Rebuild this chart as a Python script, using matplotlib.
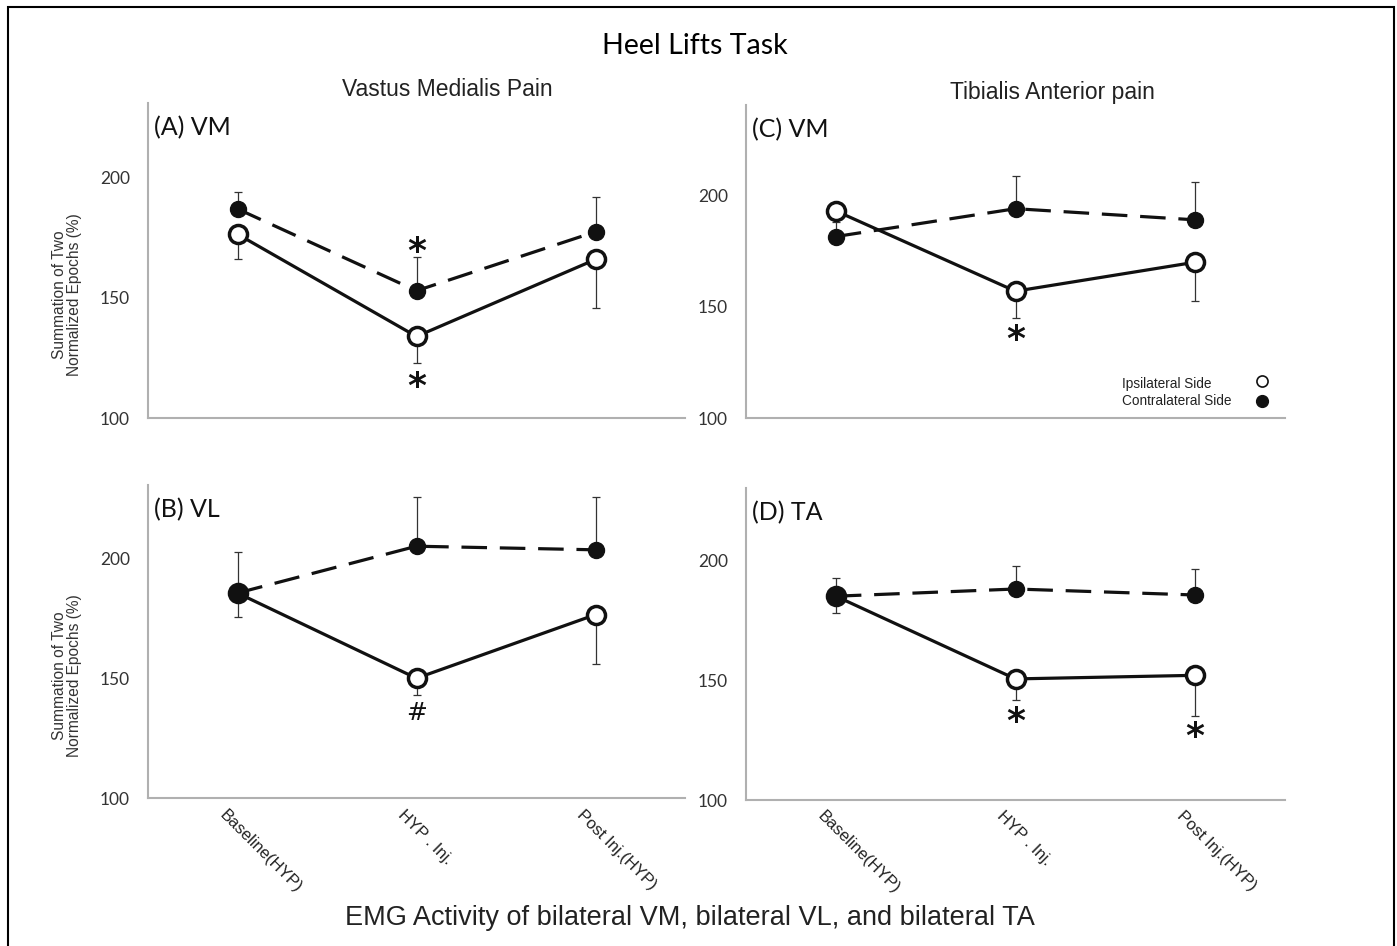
import matplotlib
matplotlib.use("Agg")
import matplotlib.pyplot as plt
import matplotlib.transforms as mtransforms
from matplotlib.patches import Rectangle

W, H = 1397, 946
categories = ["Baseline(HYP)", "HYP . Inj.", "Post Inj.(HYP)"]

# Panel data (value, one-sided error)
A_contra = [187, 153, 177.5]; A_contra_err = [7, 14, 14.5]
A_ipsi = [176.5, 134, 166]; A_ipsi_err = [10.5, 11, 20]
B_contra = [185.5, 205, 203.5]; B_contra_err = [17, 20.5, 22]
B_ipsi = [185.5, 150, 176.5]; B_ipsi_err = [10, 7, 20.5]
C_contra = [181.5, 194, 189]; C_contra_err = [8, 14.5, 17]
C_ipsi = [193, 157, 170]; C_ipsi_err = [5, 12, 17.5]
D_contra = [185, 188, 185.5]; D_contra_err = [7.5, 9.7, 11]
D_ipsi = [185, 150.5, 152]; D_ipsi_err = [7, 8.7, 17]

yticks = [100, 150, 200]

A_marks = [("*", 1, 169), ("*", 1, 113)]
B_marks = [("#", 1, 135.5)]
C_marks = [("*", 1, 135)]
D_marks = [("*", 1, 132.5), ("*", 2, 126.3)]

fig = plt.figure(figsize=(W / 100, H / 100), dpi=100)

def px_axes(l, r, t, b):
    return fig.add_axes([l / W, 1 - b / H, (r - l) / W, (b - t) / H])

panels = [
    dict(rect=(148, 685, 103, 418.3), ylim=(100, 231), label="(A) VM",
         contra=A_contra, ce=A_contra_err, ipsi=A_ipsi, ie=A_ipsi_err,
         marks=A_marks, xt=False),
    dict(rect=(746, 1285, 105, 418.3), ylim=(100, 240.5), label="(C) VM",
         contra=C_contra, ce=C_contra_err, ipsi=C_ipsi, ie=C_ipsi_err,
         marks=C_marks, xt=False),
    dict(rect=(148, 685, 485, 798.3), ylim=(100, 230.5), label="(B) VL",
         contra=B_contra, ce=B_contra_err, ipsi=B_ipsi, ie=B_ipsi_err,
         marks=B_marks, xt=True),
    dict(rect=(746, 1285, 488.3, 800), ylim=(100, 230), label="(D) TA",
         contra=D_contra, ce=D_contra_err, ipsi=D_ipsi, ie=D_ipsi_err,
         marks=D_marks, xt=True),
]

line_col = "#111111"
spine_col = "#b0b0b0"
x = list(range(len(categories)))
axes = []
shift = mtransforms.ScaledTranslation(-16 / 100, -14 / 100, fig.dpi_scale_trans)
for p in panels:
    ax = px_axes(*p["rect"])
    axes.append(ax)
    ax.set_xlim(-0.5, 2.5)
    ax.set_ylim(*p["ylim"])
    for s in ["top", "right"]:
        ax.spines[s].set_visible(False)
    for s in ["left", "bottom"]:
        ax.spines[s].set_color(spine_col)
        ax.spines[s].set_linewidth(1.5)
    ax.set_yticks(yticks)
    ax.set_yticklabels([str(v) for v in yticks], family="Lato", fontsize=12.5, color="#333333")
    ax.tick_params(axis="y", length=0, pad=13)
    ax.set_xticks(x)
    ax.set_xticklabels([])
    ax.tick_params(axis="x", length=0)
    if p["xt"]:
        tr = ax.get_xaxis_transform() + shift
        for xi, lab in zip(x, categories):
            ax.text(xi, 0, lab, transform=tr, rotation=-45, ha="left", va="center",
                    rotation_mode="anchor", family="Liberation Sans",
                    fontsize=12, color="#222222", clip_on=False)
    # error bars (one-sided)
    ax.errorbar(x, p["contra"], yerr=[[0] * 3, p["ce"]], fmt="none",
                ecolor="#333333", elinewidth=0.9, capsize=3, capthick=0.9, zorder=2)
    ax.errorbar(x, p["ipsi"], yerr=[p["ie"], [0] * 3], fmt="none",
                ecolor="#333333", elinewidth=0.9, capsize=3, capthick=0.9, zorder=2)
    ax.plot(x, p["ipsi"], color=line_col, lw=2.3, linestyle="-",
            marker="o", markersize=13, markerfacecolor="white",
            markeredgecolor=line_col, markeredgewidth=2.5, zorder=3)
    ax.plot(x, p["contra"], color=line_col, lw=2.3, linestyle=(0, (8, 4)),
            marker="o", markersize=11.5, markerfacecolor=line_col,
            markeredgecolor=line_col, zorder=4)
    for sym, xi, yi in p["marks"]:
        ax.text(xi, yi, sym, ha="center", va="center",
                fontsize=(26 if sym == "*" else 18), color=line_col,
                family="DejaVu Sans", fontweight=("bold" if sym == "*" else "normal"))
    ax.text(0.012, 0.958, p["label"], transform=ax.transAxes, ha="left", va="top",
            fontsize=18, family="Lato", color="#111111")

# legend in panel C
axC = axes[1]
axC.text(0.698, 0.1095, "Ipsilateral Side", transform=axC.transAxes,
         ha="left", va="center", fontsize=9.8, family="Liberation Sans", color="#222222")
axC.text(0.698, 0.055, "Contralateral Side", transform=axC.transAxes,
         ha="left", va="center", fontsize=9.8, family="Liberation Sans", color="#222222")
axC.plot([0.957], [0.118], transform=axC.transAxes, marker="o", markersize=8,
         markerfacecolor="white", markeredgecolor="#111111", markeredgewidth=1.2,
         linestyle="none", clip_on=False)
axC.plot([0.957], [0.055], transform=axC.transAxes, marker="o", markersize=8.5,
         markerfacecolor="#111111", markeredgecolor="#111111",
         linestyle="none", clip_on=False)

# y labels (A and B)
for yc in [295, 676]:
    fig.text(67 / W, 1 - yc / H, "Summation of Two\nNormalized Epochs (%)",
             rotation=90, ha="center", va="center", fontsize=11.2,
             family="Liberation Sans", color="#333333", linespacing=1.0)

# titles
fig.text(695 / W, 1 - 46 / H, "Heel Lifts Task", ha="center", va="center",
         fontsize=20.6, family="Lato", color="black")
fig.text(447 / W, 1 - 89 / H, "Vastus Medialis Pain", ha="center", va="center",
         fontsize=16.5, family="Liberation Sans", color="#222222")
fig.text(1052 / W, 1 - 92 / H, "Tibialis Anterior pain", ha="center", va="center",
         fontsize=16.5, family="Liberation Sans", color="#222222")
fig.text(690 / W, 1 - 918 / H, "EMG Activity of bilateral VM, bilateral VL, and bilateral TA",
         ha="center", va="center", fontsize=19.5, family="Liberation Sans", color="#222222")

# outer border
fig.patches.append(Rectangle((8 / W, -0.01), (1394 - 8) / W, (946 - 7) / H + 0.01,
                             transform=fig.transFigure, fill=False,
                             edgecolor="black", linewidth=1.5))

fig.savefig("out.png", dpi=100)
